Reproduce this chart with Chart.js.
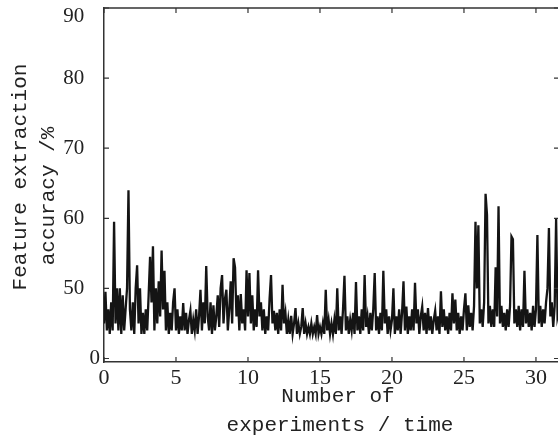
<!DOCTYPE html>
<html><head><meta charset="utf-8">
<script src="https://cdn.jsdelivr.net/npm/chart.js@4/dist/chart.umd.min.js"></script>
<style>html,body{margin:0;padding:0;background:#fff;overflow:hidden}#wrap{width:562px;height:438px;position:relative}</style>
</head><body><div id="wrap"><canvas id="c"></canvas></div>
<script>
// sampling of the experiment axis
const xStart = 0;
const xStep = 0.1;
// feature extraction accuracy (%), one value per 0.1 step
const accuracy = [
 45,49.5,44,47,43.5,48,44,59.5,45,50,
 44,50,43.5,49,44,47,50,64,47,44,
 48,43.5,50,53.3,45,50,43.5,46.5,43.5,47,
 44,49,54.5,48,56,44,50,45,51,46,
 55.4,47,52.5,44,48,43.5,46.5,44,48,50,
 44,47,43.5,46,44,47.9,44,46.5,43.5,45.5,
 46.8,43.5,45.5,44,47,43.5,46,49.8,44,48,
 45,53.2,46,44,48,43.5,47.6,44,46,49,
 44.5,50,51.9,45,48.5,49.8,44,47,51,45,
 54.3,53,46,49,44,49.2,45,47,44,52.6,
 46,52.2,45,49,44,47,44.5,52.6,46,48,
 44,47,43.5,46,44,48.5,51.9,45,46.8,44,
 46.5,43.5,47,44,50.5,45,46.5,43.5,45.5,43.5,
 46.1,43.5,45,47.2,43.5,45,43.5,44.5,47.2,43.5,
 45,43.5,44.5,43.5,45,43.5,44.5,43.5,46.2,43.5,
 44.5,43.5,45,43.5,49.8,44,45.5,43.5,45,43.5,
 45.5,43.5,50,44,46,43.5,47,51.8,44,46,
 43.5,45.5,44,46.5,43.5,50.9,44,46,43.5,47,
 44,51.9,44.5,46,43.5,46.5,44,47,52.2,44,
 46,43.5,46.5,44,52.5,45,47,43.5,46,44,
 45.5,50,43.5,46,44,47,43.5,46.5,51,44,
 47.4,43.5,46,44,47,44,50.8,45,47,43.5,
 46,47.4,44,46.5,43.5,47.2,44,46,43.5,45.5,
 46.8,44,46,43.5,49.6,44.5,47,44,46,43.5,
 46.5,44,49.3,45,48.4,44,46.5,43.5,46,44,
 47,49.3,44,47.6,44.5,46.5,44,47.5,59.5,50,
 59,45,47,44.5,48,63.5,60.5,45,47.5,44.5,
 47,44.5,53,46,61.7,45,47.5,44.5,46.5,44,
 47,44.5,47.5,57.4,57,45,47,44.5,47.5,44,
 47,44.5,52.5,45,47,44.5,46.5,44,47.5,44.5,
 47,57.6,45,47.5,44.5,47,45,48,50,58.6,
 46,48,44.5,47.5,60,46,47
];
const xTicks = [0,5,10,15,20,25,30];
const xTickLabels = ["0","5","10","15","20","25","30"];
const yTicks = [40,50,60,70,80,90];
const yTickLabels = ["0","50   ","60   ","70   ","80   ",["","90   "]];
const xTitle = ["Number of","experiments / time"];
const yTitle = ["Feature extraction","accuracy /%"];

const points = accuracy.map((v,i)=>({x: xStart + i*xStep, y: v}));
const ink = '#141414';

const framePlugin = {
  id:'frame',
  afterDraw(chart){
    const {ctx, chartArea:a, scales:{x, y}} = chart;
    ctx.save();
    ctx.strokeStyle = '#333';
    ctx.lineWidth = 1.5;
    ctx.beginPath();
    ctx.moveTo(a.left, a.top); ctx.lineTo(a.right, a.top);
    ctx.moveTo(a.right, a.top); ctx.lineTo(a.right, a.bottom);
    ctx.stroke();
    ctx.lineWidth = 1.2;
    ctx.beginPath();
    xTicks.forEach(v=>{const p=x.getPixelForValue(v);
      ctx.moveTo(p,a.bottom); ctx.lineTo(p,a.bottom-5);
      ctx.moveTo(p,a.top); ctx.lineTo(p,a.top+5);});
    yTicks.forEach(v=>{const p=y.getPixelForValue(v);
      ctx.moveTo(a.left,p); ctx.lineTo(a.left+5,p);
      ctx.moveTo(a.right,p); ctx.lineTo(a.right-5,p);});
    ctx.stroke();
    // axis titles
    ctx.fillStyle = '#222';
    ctx.font = '21px "Liberation Mono", monospace';
    ctx.textAlign = 'center';
    ctx.textBaseline = 'alphabetic';
    ctx.fillText(xTitle[0], 338, 402);
    ctx.fillText(xTitle[1], 340, 431);
    ctx.save();
    ctx.translate(26, 177); ctx.rotate(-Math.PI/2);
    ctx.fillText(yTitle[0], 0, 0);
    ctx.restore();
    ctx.save();
    ctx.translate(54, 196); ctx.rotate(-Math.PI/2);
    ctx.fillText(yTitle[1], 0, 0);
    ctx.restore();
    ctx.restore();
  }
};

new Chart(document.getElementById('c'), {
  type:'line',
  data:{datasets:[{data:points, borderColor:ink, borderWidth:2.3, pointRadius:0, tension:0, fill:false, borderJoinStyle:'miter'}]},
  options:{
    responsive:true, maintainAspectRatio:false, animation:false,
    layout:{padding:{left:0, right:3, top:8, bottom:0}},
    plugins:{legend:{display:false}, tooltip:{enabled:false}},
    scales:{
      x:{type:'linear', min:0, max:31.6,
        afterBuildTicks(s){ s.ticks = xTicks.map(v=>({value:v})); },
        afterFit(s){ s.height = 76; s.paddingLeft = 0; s.paddingRight = 0; },
        grid:{display:true, drawOnChartArea:false, drawTicks:false},
        border:{display:true, color:'#333', width:1.5},
        ticks:{padding:5, maxRotation:0, autoSkip:false, color:'#222',
          font:{family:'"Liberation Serif", serif', size:22, lineHeight:1},
          callback(v){ const i = xTicks.indexOf(v); return i>=0 ? xTickLabels[i] : ''; }}
      },
      y:{type:'linear', min:39.5, max:90,
        afterBuildTicks(s){ s.ticks = yTicks.map(v=>({value:v})); },
        afterFit(s){ s.width = 104; s.paddingTop = 0; s.paddingBottom = 0; },
        grid:{display:true, drawOnChartArea:false, drawTicks:false},
        border:{display:true, color:'#333', width:1.5},
        ticks:{padding:4, color:'#222', autoSkip:false,
          font:{family:'"Liberation Serif", serif', size:21, lineHeight:0.8},
          callback(v){ const i = yTicks.indexOf(v); return i>=0 ? yTickLabels[i] : ''; }}
      }
    }
  },
  plugins:[framePlugin]
});
</script></body></html>
